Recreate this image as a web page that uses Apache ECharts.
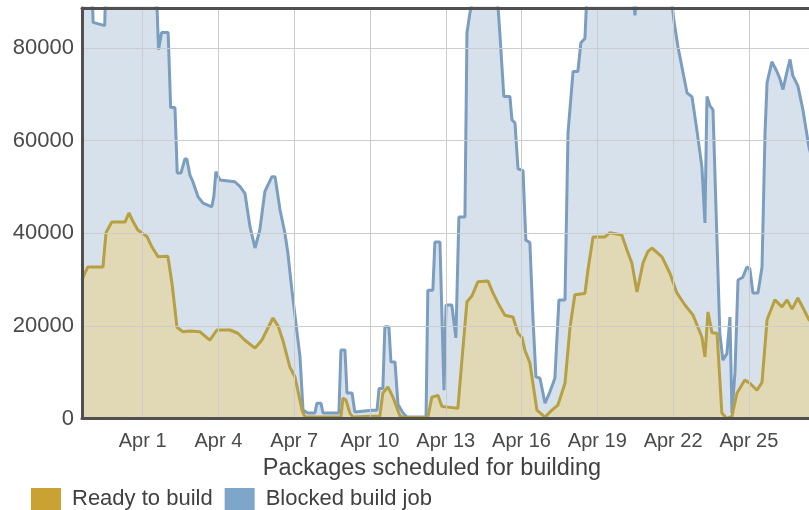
<!DOCTYPE html>
<html>
<head>
<meta charset="utf-8">
<script src="https://cdn.jsdelivr.net/npm/echarts@6/dist/echarts.min.js"></script>
<style>
html,body{margin:0;padding:0;background:#fff;}
#chart{width:809px;height:510px;}
</style>
</head>
<body>
<div id="chart"></div>
<script>
// x values are days counted from Mar 31 00:00 (so Apr N = N)
const xTickDays = [1, 4, 7, 10, 13, 16, 19, 22, 25];
const yTicks = [0, 20000, 40000, 60000, 80000];

const blockedDays = [-1.40,-1.00,-0.96,-0.50,-0.47,1.55,1.63,1.68,1.75,2.01,2.11,2.28,2.37,2.52,2.67,2.75,2.87,2.99,3.19,3.39,3.74,3.82,3.90,4.06,4.65,4.85,5.05,5.25,5.45,5.64,5.84,6.12,6.24,6.44,6.63,6.75,6.91,7.23,7.35,7.54,7.82,7.90,8.06,8.14,8.77,8.85,9.01,9.09,9.29,9.40,10.08,10.28,10.36,10.51,10.59,10.75,10.83,10.99,11.11,11.31,11.46,12.22,12.29,12.49,12.57,12.77,12.93,13.01,13.24,13.40,13.52,13.76,13.84,13.96,14.12,15.03,15.14,15.30,15.54,15.62,15.74,15.86,16.06,16.17,16.33,16.45,16.57,16.73,16.93,17.12,17.32,17.48,17.72,17.84,18.04,18.23,18.35,18.51,18.59,20.41,20.49,20.57,21.91,22.03,22.19,22.55,22.75,22.94,23.14,23.26,23.34,23.46,23.58,23.70,23.85,23.97,24.13,24.25,24.33,24.45,24.57,24.76,24.92,25.04,25.16,25.36,25.52,25.64,25.72,25.91,26.11,26.23,26.35,26.51,26.63,26.74,26.94,27.14,27.38,27.70];
const blockedValues = [92000,92000,85500,84800,92000,92000,79600,79600,83300,83300,67100,67100,53000,53000,56000,56000,52600,51100,47900,46500,45700,48000,53300,51500,51100,50100,48600,41400,36800,40700,49000,52200,52200,45000,40100,35700,27700,13300,1800,1200,1200,3300,3300,1200,1200,14800,14800,5500,5500,1400,1800,1800,6500,6500,19800,19800,12200,12200,3000,1200,300,300,27700,27700,38100,38100,6100,24500,24500,17400,43500,43500,83300,87600,92000,92000,83300,69500,69500,64500,63800,53900,53500,38500,38000,21900,9000,8700,3300,5700,8700,25600,25600,61700,74900,74900,81100,82000,92000,92000,87000,92000,92000,86000,80300,70300,69400,62300,54300,42200,69500,67500,66600,45000,18400,12600,14000,21900,1200,10000,29900,30500,32700,32300,27100,27100,32700,61700,72500,77000,74900,73300,71000,74900,77500,74000,71800,66600,58500,52000];

const readyDays = [-1.40,-1.32,-1.17,-0.57,-0.45,-0.22,0.30,0.46,0.62,0.81,1.17,1.37,1.61,2.00,2.16,2.36,2.60,2.87,3.27,3.66,3.94,4.46,4.77,5.05,5.45,5.72,5.92,6.16,6.36,6.55,6.83,7.03,7.31,7.43,8.85,8.93,9.05,9.21,9.33,10.00,10.39,10.51,10.71,10.91,11.19,11.38,12.29,12.45,12.69,12.85,13.17,13.48,13.64,13.84,14.04,14.27,14.67,14.87,15.07,15.34,15.66,15.86,16.02,16.13,16.33,16.45,16.61,16.93,17.20,17.44,17.72,17.92,18.11,18.51,18.63,18.83,19.30,19.50,19.97,20.17,20.37,20.57,20.81,21.00,21.16,21.56,21.87,22.15,22.47,22.79,23.14,23.26,23.38,23.54,23.74,23.93,24.13,24.33,24.53,24.84,25.04,25.32,25.52,25.72,26.03,26.31,26.51,26.71,26.94,27.14,27.38,27.70];
const readyValues = [29800,31000,32700,32700,40100,42400,42400,44400,42500,40700,39300,37000,34900,35000,29300,19700,18700,18900,18700,16900,19100,19100,18400,16900,15200,16900,19100,21700,20000,16900,11100,9000,1800,300,300,4400,4000,1100,300,500,500,5500,6800,4600,500,200,200,4600,5000,2600,2400,2200,12600,25200,26500,29500,29700,27100,24900,22300,21900,18400,17500,14800,12000,7600,1800,300,1800,2900,7600,19700,26700,27000,32100,39200,39200,40100,39600,36400,33500,27300,33600,36000,36800,34900,31400,27100,24500,22300,17600,13300,23000,18500,18400,1200,0,500,5500,8300,7600,6100,7800,21300,25600,24100,25600,23600,26000,23900,21300,20000];

function pairs(xs, ys) { return xs.map((x, i) => [x, ys[i]]); }

const chart = echarts.init(document.getElementById('chart'), null, {renderer: 'canvas'});
const font = 'Liberation Sans, Arial, sans-serif';
const borderLine = {show: true, onZero: false, lineStyle: {color: '#505050', width: 3}};
chart.setOption({
  animation: false,
  backgroundColor: '#ffffff',
  title: {
    text: 'Packages scheduled for building',
    left: 432, top: 457, textAlign: 'center', padding: 0,
    textStyle: {fontFamily: font, fontSize: 23.5, fontWeight: 'normal', color: '#404040'}
  },
  legend: {
    left: 31, top: 488, padding: 0,
    itemWidth: 30, itemHeight: 22, itemGap: 12,
    icon: 'rect',
    textStyle: {fontFamily: font, fontSize: 22, color: '#404040', padding: [0, 0, 0, 6]},
    data: [
      {name: 'Ready to build', itemStyle: {color: '#c9a233'}},
      {name: 'Blocked build job', itemStyle: {color: '#7ea6c8'}}
    ]
  },
  grid: {
    left: 82, right: 0, top: 8, bottom: 91.5,
    show: false
  },
  xAxis: [{
    type: 'value', min: -1.40, max: 27.38, position: 'bottom',
    axisLine: borderLine,
    axisTick: {show: false, customValues: xTickDays},
    axisLabel: {
      customValues: xTickDays,
      formatter: v => 'Apr ' + Math.round(v),
      fontFamily: font, fontSize: 20, color: '#4a4a4a', margin: 13
    },
    splitLine: {show: true, lineStyle: {color: '#cccccc', width: 1}},
    z: 10
  }, {
    type: 'value', min: -1.40, max: 27.38, position: 'top',
    axisLine: borderLine,
    axisTick: {show: false},
    axisLabel: {show: false},
    splitLine: {show: false},
    z: 10
  }],
  yAxis: {
    type: 'value', min: yTicks[0], max: 88600, interval: yTicks[1] - yTicks[0],
    position: 'left',
    axisLine: borderLine,
    axisTick: {show: false},
    axisLabel: {
      showMaxLabel: false,
      formatter: v => String(v),
      fontFamily: font, fontSize: 22, color: '#4a4a4a', margin: 8
    },
    splitLine: {show: true, lineStyle: {color: '#cccccc', width: 1}},
    z: 10
  },
  series: [
    {
      name: 'Blocked build job', type: 'line', symbol: 'none',
      data: pairs(blockedDays, blockedValues),
      lineStyle: {color: '#7b9ec0', width: 3},
      itemStyle: {color: '#7ea6c8'},
      areaStyle: {color: 'rgba(120,156,192,0.44)'},
      z: 2
    },
    {
      name: 'Ready to build', type: 'line', symbol: 'none',
      data: pairs(readyDays, readyValues),
      lineStyle: {color: '#b7a041', width: 3},
      itemStyle: {color: '#c9a233'},
      areaStyle: {color: 'rgba(238,205,118,0.66)'},
      z: 3
    }
  ]
});
</script>
</body>
</html>
